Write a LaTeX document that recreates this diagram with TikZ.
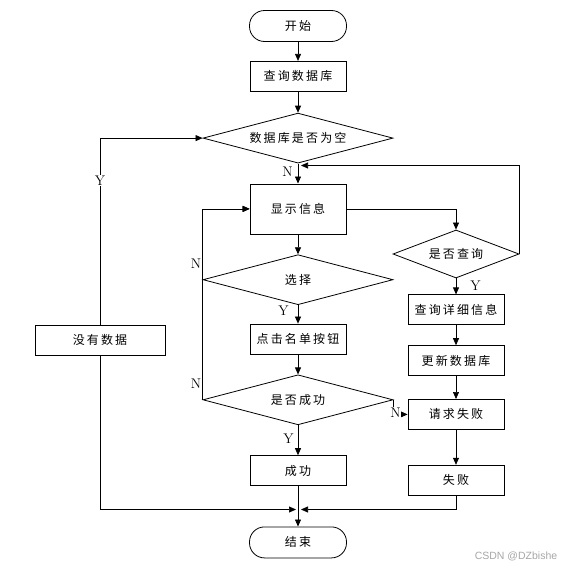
\documentclass[tikz,border=0pt]{standalone}
\usepackage{fontspec}
\newfontfamily\cjk[LetterSpace=18]{Noto Sans CJK SC}
\newfontfamily\wmfont{Liberation Sans}
\usetikzlibrary{shapes.geometric, arrows.meta, positioning, calc}

\begin{document}
\begin{tikzpicture}[x=1pt, y=-1pt,
    % --- Global Styles ---
    base/.style={draw, line width=0.8pt, align=center, inner sep=0pt, font=\cjk\fontsize{12}{14}\selectfont},
    terminal/.style={base, rectangle, rounded corners=15pt, minimum width=97pt, minimum height=31pt},
    process/.style={base, rectangle, minimum width=96pt, minimum height=30pt},
    decision/.style={base, diamond, aspect=3.8, minimum width=190pt, minimum height=50pt},
    arrow/.style={-{Triangle[length=7pt,width=6pt]}, line width=0.7pt},
    yn/.style={font=\fontsize{14}{16}\selectfont, inner sep=1pt}
]
    \useasboundingbox (0,0) rectangle (571,573);

    % --- Main column ---
    \node[terminal] (start) at (298,26) {开始};
    \node[process, below=19pt of start] (query) {查询数据库};
    \node[decision, below=21pt of query] (empty) {数据库是否为空};
    \node[process, minimum height=50pt, below=20pt of empty] (show) {显示信息};
    \node[decision, below=20pt of show] (choose) {选择};
    \node[process, below=18.5pt of choose] (click) {点击名单按钮};
    \node[decision, below=20pt of click] (succq) {是否成功};
    \node[process, below=30pt of succq] (success) {成功};
    \node[terminal, below=40.5pt of success] (stop) {结束};

    % --- Right column ---
    \node[decision, minimum width=126pt, minimum height=48pt, aspect=2.6] (askq) at (456,254) {是否查询};
    \node[process, below=16pt of askq] (detail) {查询详细信息};
    \node[process, below=20pt of detail] (update) {更新数据库};
    \node[process, below=23pt of update] (reqfail) {请求失败};
    \node[process, below=35pt of reqfail] (fail) {失败};

    % --- Left column ---
    \node[process, minimum width=130pt] (nodata) at (100,340) {没有数据};

    % --- Join points ---
    \coordinate (back) at ($(empty.south)+(3,2)$);
    \coordinate (joinL) at ($(stop.north)+(-2,-17)$);
    \coordinate (joinR) at ($(stop.north)+(3,-17)$);

    % --- Forward flow ---
    \draw[arrow] (start) -- (query);
    \draw[arrow] (query) -- (empty);
    \draw[arrow] (empty) -- node[yn, left, xshift=-4pt, pos=0.4] {N} (show);
    \draw[arrow] (choose) -- node[yn, left, xshift=-8pt, pos=0.3] {Y} (click);
    \draw[arrow] (show) -- (choose);
    \draw[arrow] (click) -- (succq);
    \draw[arrow] (succq) -- node[yn, left, xshift=-3pt, pos=0.45] {Y} (success);
    \draw[arrow] (success) -- (stop);

    \draw[arrow] (show.east) -| (askq.north);
    \draw[arrow] (askq) -- node[yn, right, xshift=13pt, pos=0.45] {Y} (detail);
    \draw[arrow] (detail) -- (update);
    \draw[arrow] (update) -- (reqfail);
    \draw[arrow] (reqfail) -- (fail);

    % --- Branches and loops ---
    \draw[arrow] (nodata.north) |- node[yn, pos=0.386, fill=white] {Y} (empty.west);
    \draw[arrow] (choose.west) |- node[yn, left, pos=0.116] {N} (show.west);
    \draw[arrow] (succq.west) |- node[yn, left, pos=0.042] {N} (show.west);
    \draw[arrow] (succq.east) |- node[yn, pos=0.5, fill=white, inner sep=0.5pt, xshift=2pt, yshift=2pt] {N} (reqfail.west);
    \draw[arrow] (askq.east) |- (back);
    \draw[arrow] (nodata.south) |- (joinL);
    \draw[arrow] (fail.south) |- (joinR);

    \node[font=\wmfont\fontsize{10.5}{12}\selectfont, text=gray!70] (mark) at (516,556) {CSDN @DZbishe};
\end{tikzpicture}
\end{document}
